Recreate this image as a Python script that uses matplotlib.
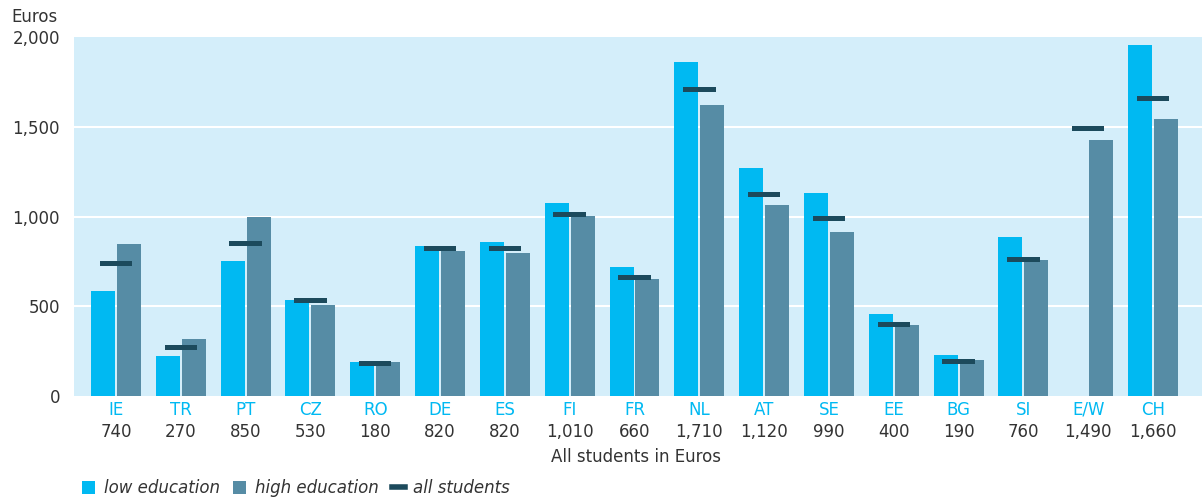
import numpy as np
import matplotlib
matplotlib.use("Agg")
import matplotlib.pyplot as plt
from matplotlib.transforms import blended_transform_factory
from matplotlib.patches import Patch
from matplotlib.lines import Line2D

countries = ["IE", "TR", "PT", "CZ", "RO", "DE", "ES", "FI", "FR", "NL",
             "AT", "SE", "EE", "BG", "SI", "E/W", "CH"]
low_edu = [584, 221, 751, 533, 187, 835, 857, 1075, 718, 1858,
           1271, 1131, 455, 226, 885, np.nan, 1958]
high_edu = [846, 316, 997, 506, 187, 807, 796, 1003, 651, 1623,
            1064, 913, 393, 198, 757, 1427, 1545]
all_students = [740, 270, 850, 530, 180, 820, 820, 1010, 660, 1710,
                1120, 990, 400, 190, 760, 1490, 1660]
all_labels = ["740", "270", "850", "530", "180", "820", "820", "1,010", "660", "1,710",
              "1,120", "990", "400", "190", "760", "1,490", "1,660"]
yticks = [0, 500, 1000, 1500, 2000]
ytick_labels = ["0", "500", "1,000", "1,500", "2,000"]

C_LOW = "#00b9f2"
C_HIGH = "#568ca5"
C_ALL = "#1c4a5c"
C_BG = "#d4eefa"
C_TXT = "#333333"
FS = 12

plt.rcParams['font.family'] = ['DejaVu Sans']

fig = plt.figure(figsize=(12.02, 4.99), dpi=100)
ax = fig.add_axes([74/1202, 1-396/499, 1-74/1202, (396-37)/499])
ax.set_facecolor(C_BG)
for s in ax.spines.values():
    s.set_visible(False)

x = np.arange(len(countries))
bw = 0.37
off = 0.2
ax.bar(x - off, np.nan_to_num(low_edu), width=bw, color=C_LOW, zorder=3)
ax.bar(x + off, high_edu, width=bw, color=C_HIGH, zorder=3)
mh = 28
ax.bar(x, [mh]*len(x), bottom=np.array(all_students) - mh/2, width=0.5, color=C_ALL, zorder=4)

ax.set_xlim(-0.648, 16.756)
ax.set_ylim(0, 2000)
ax.set_yticks(yticks)
ax.set_yticklabels(ytick_labels)
ax.set_xticks([])
ax.tick_params(axis='y', length=0, pad=10, labelsize=FS, labelcolor=C_TXT)
for yv in [500, 1000, 1500]:
    ax.axhline(yv, color="white", lw=1.5, zorder=1)

tr = blended_transform_factory(ax.transData, fig.transFigure)
for i in range(len(countries)):
    ax.text(x[i], 1-410/499, countries[i], transform=tr, ha='center', va='center',
            color=C_LOW, fontsize=FS)
    ax.text(x[i], 1-432/499, all_labels[i], transform=tr, ha='center', va='center',
            color=C_TXT, fontsize=FS)

fig.text(636/1202, 1-457/499, "All students in Euros", ha='center', va='center',
         color=C_TXT, fontsize=FS)
fig.text(11/1202, 1-17/499, "Euros", ha='left', va='center', color=C_TXT, fontsize=FS)

handles = [Patch(facecolor=C_LOW, edgecolor='none'),
           Patch(facecolor=C_HIGH, edgecolor='none'),
           Line2D([0], [0], color=C_ALL, lw=4)]
labels = ["low education", "high education", "all students"]
leg = fig.legend(handles, labels, loc='center left', bbox_to_anchor=(82/1202, 1-488/499),
                 ncol=3, frameon=False, handlelength=0.8, handleheight=0.8,
                 handletextpad=0.5, columnspacing=0.8, borderaxespad=0, borderpad=0,
                 prop={'size': FS, 'style': 'italic'})
for t in leg.get_texts():
    t.set_color(C_TXT)

fig.savefig("out.png", dpi=100)
